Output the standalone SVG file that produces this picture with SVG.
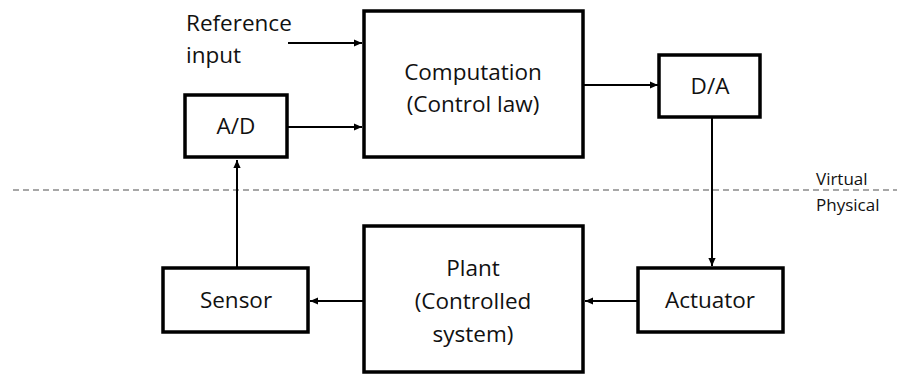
<svg xmlns="http://www.w3.org/2000/svg" width="897" height="376" viewBox="0 0 897 376">
  <style>
    .box { fill: #fff; stroke: #000; stroke-width: 3.5; }
    .lbl { font-family: "Open Sans", "Liberation Sans", sans-serif; font-size: 22.5px; fill: #111; text-anchor: middle; }
    .side { font-family: "Open Sans", "Liberation Sans", sans-serif; font-size: 17px; fill: #111; }
    .wire { fill: none; stroke: #000; stroke-width: 2; }
  </style>
  <defs>
    <marker id="arrow" viewBox="0 0 10 10" refX="10" refY="5" markerWidth="4.2" markerHeight="3.8" orient="auto" markerUnits="strokeWidth" preserveAspectRatio="none">
      <path d="M0,0 L10,5 L0,10 Z" fill="#000"/>
    </marker>
  </defs>
  <rect width="897" height="376" fill="#fff"/>

  <!-- boundary between virtual and physical domains -->
  <g id="boundary">
    <line x1="13" y1="190" x2="897" y2="190" stroke="#8a8a8a" stroke-width="1.5" stroke-dasharray="6,4"/>
    <text class="side" x="816" y="185">Virtual</text>
    <text class="side" x="816" y="211">Physical</text>
  </g>

  <g id="connectors">
    <path class="wire" d="M288,43 H362" marker-end="url(#arrow)"/>
    <path class="wire" d="M288,127 H362" marker-end="url(#arrow)"/>
    <path class="wire" d="M584,85 H658" marker-end="url(#arrow)"/>
    <path class="wire" d="M712,118 V266" marker-end="url(#arrow)"/>
    <path class="wire" d="M637,301 H585" marker-end="url(#arrow)"/>
    <path class="wire" d="M363,301 H310" marker-end="url(#arrow)"/>
    <path class="wire" d="M237,267 V160" marker-end="url(#arrow)"/>
  </g>

  <g id="reference-input">
    <text class="lbl" x="186" y="31" style="text-anchor:start">Reference</text>
    <text class="lbl" x="186" y="63" style="text-anchor:start">input</text>
  </g>

  <g id="computation">
    <rect class="box" x="364" y="11" width="219" height="146"/>
    <text class="lbl" x="473" y="80">Computation</text>
    <text class="lbl" x="473" y="112">(Control law)</text>
  </g>

  <g id="ad">
    <rect class="box" x="185" y="95" width="102" height="62"/>
    <text class="lbl" x="236" y="134">A/D</text>
  </g>

  <g id="da">
    <rect class="box" x="659" y="55" width="101" height="62"/>
    <text class="lbl" x="710" y="94">D/A</text>
  </g>

  <g id="actuator">
    <rect class="box" x="638" y="268" width="145" height="64"/>
    <text class="lbl" x="710" y="308">Actuator</text>
  </g>

  <g id="plant">
    <rect class="box" x="364" y="226" width="219" height="146"/>
    <text class="lbl" x="473" y="276">Plant</text>
    <text class="lbl" x="473" y="309">(Controlled</text>
    <text class="lbl" x="473" y="342">system)</text>
  </g>

  <g id="sensor">
    <rect class="box" x="163" y="268" width="145" height="64"/>
    <text class="lbl" x="236" y="308">Sensor</text>
  </g>
</svg>
